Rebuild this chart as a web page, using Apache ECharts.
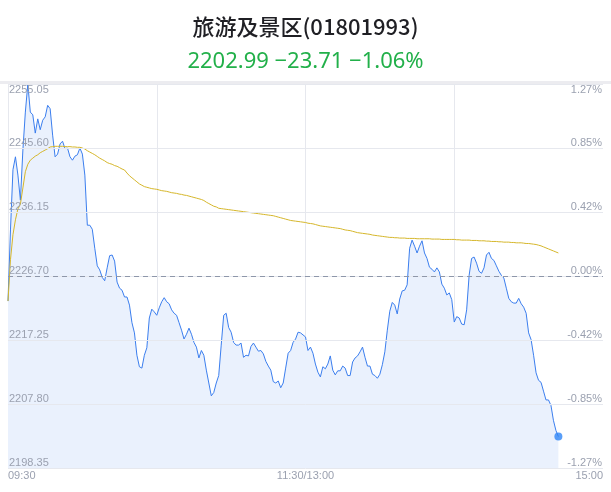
<!DOCTYPE html>
<html><head><meta charset="utf-8">
<script src="https://cdn.jsdelivr.net/npm/echarts@6/dist/echarts.min.js"></script>
<style>html,body{margin:0;padding:0;background:#fff}#c{width:611px;height:492px}</style>
</head><body><div id="c"></div>
<script>
var titleText = '旅游及景区(01801993)';
var prevClose = 2226.70;
var yMin = 2198.35, yMax = 2255.05, yStep = 9.45;
var price = [
2223.0,2233.5,2242.4,2244.3,2241.6,2237.9,2245.3,2250.9,2255.05,2250.9,
2250.5,2247.8,2249.9,2248.3,2249.7,2250.2,2251.9,2251.4,2247.5,2244.3,
2244.7,2246.2,2246.6,2245.5,2245.6,2244.3,2243.8,2244.4,2244.6,2245.6,
2244.7,2241.6,2234.2,2234.2,2233.6,2230.8,2228.2,2227.6,2226.5,2226.0,
2227.9,2229.7,2229.8,2228.9,2225.8,2224.9,2224.6,2223.6,2223.6,2222.4,
2219.8,2218.3,2215.0,2213.3,2213.1,2215.0,2216.1,2220.5,2221.8,2221.4,
2220.9,2222.0,2222.9,2223.5,2222.9,2222.6,2221.7,2221.2,2220.9,2219.8,
2218.7,2217.4,2218.1,2219.0,2218.1,2216.9,2216.2,2214.6,2215.7,2215.0,
2212.8,2210.9,2209.0,2209.5,2210.9,2212.0,2216.5,2220.9,2221.2,2219.1,
2218.4,2216.9,2216.5,2216.5,2216.8,2214.7,2215.0,2214.9,2216.3,2216.8,
2216.2,2215.6,2215.7,2215.2,2214.1,2213.4,2212.8,2211.1,2210.9,2211.2,
2210.2,2210.9,2213.1,2215.3,2215.7,2216.9,2217.4,2218.4,2218.3,2218.0,
2217.7,2215.7,2216.2,2215.3,2213.7,2212.5,2211.8,2213.3,2213.0,2213.7,
2214.9,2212.8,2212.1,2212.7,2212.7,2213.4,2213.1,2212.0,2212.0,2214.0,
2214.6,2214.9,2215.5,2216.2,2214.7,2213.4,2213.4,2212.2,2212.0,2211.6,
2212.2,2213.6,2215.5,2218.7,2221.5,2222.8,2222.4,2221.1,2223.3,2224.5,
2224.6,2225.4,2230.8,2232.0,2231.1,2230.1,2231.1,2231.9,2230.1,2229.3,
2228.0,2227.7,2227.3,2227.9,2227.3,2225.5,2224.9,2223.9,2224.2,2223.2,
2219.9,2220.7,2220.5,2219.6,2219.5,2221.7,2226.8,2229.3,2229.5,2228.6,
2227.4,2227.1,2227.9,2229.8,2230.2,2229.3,2229.0,2228.2,2227.4,2226.8,
2226.4,2224.9,2223.4,2222.9,2222.7,2222.7,2223.4,2222.6,2222.1,2221.2,
2218.3,2217.3,2215.0,2212.4,2211.3,2211.0,2209.7,2208.4,2208.4,2207.6,
2205.4,2203.9,2202.99
];
var avgPrice = [
2223.0,2229.1,2232.8,2235.0,2236.6,2237.3,2239.7,2242.1,2243.2,2243.8,
2244.1,2244.4,2244.6,2244.9,2245.1,2245.3,2245.5,2245.75,2245.8,2245.85,
2245.85,2245.85,2245.85,2245.8,2245.8,2245.8,2245.75,2245.75,2245.7,2245.7,
2245.6,2245.45,2245.2,2245.0,2244.8,2244.6,2244.35,2244.1,2243.9,2243.7,
2243.45,2243.3,2243.2,2243.0,2242.9,2242.7,2242.5,2242.35,2241.9,2241.5,
2241.2,2240.9,2240.6,2240.3,2240.1,2239.9,2239.8,2239.7,2239.6,2239.55,
2239.5,2239.4,2239.3,2239.25,2239.2,2239.1,2239.0,2238.95,2238.9,2238.8,
2238.75,2238.65,2238.6,2238.5,2238.4,2238.3,2238.2,2238.1,2238.0,2237.85,
2237.6,2237.4,2237.2,2237.0,2236.9,2236.7,2236.65,2236.6,2236.55,2236.5,
2236.45,2236.4,2236.35,2236.3,2236.25,2236.2,2236.15,2236.1,2236.05,2236.0,
2235.95,2235.9,2235.85,2235.8,2235.75,2235.7,2235.65,2235.6,2235.5,2235.4,
2235.3,2235.2,2235.1,2235.0,2234.9,2234.85,2234.8,2234.75,2234.7,2234.65,
2234.6,2234.5,2234.45,2234.4,2234.3,2234.2,2234.1,2234.05,2234.0,2233.95,
2233.9,2233.85,2233.8,2233.75,2233.7,2233.6,2233.5,2233.45,2233.4,2233.3,
2233.2,2233.1,2233.05,2233.0,2232.95,2232.9,2232.85,2232.75,2232.7,2232.65,
2232.6,2232.55,2232.5,2232.45,2232.4,2232.4,2232.35,2232.35,2232.3,2232.3,
2232.3,2232.25,2232.25,2232.25,2232.25,2232.2,2232.2,2232.2,2232.2,2232.2,
2232.2,2232.15,2232.15,2232.15,2232.15,2232.1,2232.1,2232.1,2232.1,2232.1,
2232.1,2232.05,2232.05,2232.0,2232.0,2232.0,2232.0,2231.95,2231.95,2231.95,
2231.9,2231.9,2231.9,2231.85,2231.85,2231.8,2231.8,2231.8,2231.75,2231.75,
2231.7,2231.7,2231.7,2231.65,2231.65,2231.6,2231.6,2231.6,2231.55,2231.5,
2231.5,2231.45,2231.4,2231.35,2231.25,2231.15,2231.0,2230.85,2230.7,2230.55,
2230.4,2230.25,2230.1
];
var xTickLabels = ['09:30', '11:30/13:00', '15:00'];

function pad(n){return (n<10?'0':'')+n;}
var times = [];
for (var m = 9*60+30; m <= 11*60+30; m++) times.push(pad(Math.floor(m/60))+':'+pad(m%60));
for (var m2 = 13*60+1; m2 <= 15*60; m2++) times.push(pad(Math.floor(m2/60))+':'+pad(m2%60));

var last = price[price.length-1];
var chg = last - prevClose;
var pct = chg / prevClose * 100;
var minus = function(v){ return (v<0?'\u2212':'+') + Math.abs(v).toFixed(2); };
var subText = last.toFixed(2) + ' ' + minus(chg) + ' ' + minus(pct) + '%';
var pMin = (yMin - prevClose)/prevClose*100, pMax = (yMax - prevClose)/prevClose*100;

var labelColor = '#9ba1b0';
var gridColor = '#e6e8ee';
var chart = echarts.init(document.getElementById('c'));
chart.setOption({
  animation: false,
  title: [
    {text: titleText, left: 'center', top: 11, textStyle: {fontFamily: 'Noto Sans CJK SC', fontSize: 22, fontWeight: 500, color: '#1f1f24'}},
    {text: subText, left: 'center', top: 46, textStyle: {fontFamily: 'Noto Sans', fontSize: 22, fontWeight: 'normal', color: '#22b04a'}}
  ],
  graphic: [{type: 'rect', left: 0, top: 81, shape: {width: 611, height: 3}, style: {fill: '#ececf0'}, silent: true}],
  grid: {left: 8, right: 8, top: 84, bottom: 24, containLabel: false},
  xAxis: {
    type: 'category', data: times, boundaryGap: false,
    axisLine: {show: false}, axisTick: {show: false},
    axisLabel: {
      color: labelColor, fontSize: 11, margin: 2,
      interval: function(i){ return i===0 || i===120 || i===240; },
      formatter: function(v, i){ return i===0 ? xTickLabels[0] : (i===120 ? xTickLabels[1] : xTickLabels[2]); },
      alignMinLabel: 'left', alignMaxLabel: 'right'
    },
    splitLine: {show: true, interval: function(i){ return i % 60 === 0 && i < 240; }, lineStyle: {color: gridColor, width: 1}}
  },
  yAxis: [
    {type: 'value', min: yMin, max: yMax, interval: yStep, position: 'left', z: 10,
     axisLine: {show: false}, axisTick: {show: false},
     splitLine: {lineStyle: {color: gridColor, width: 1}},
     axisLabel: {inside: true, color: labelColor, fontSize: 11, margin: 1,
       verticalAlign: 'bottom', verticalAlignMaxLabel: 'top',
       formatter: function(v){ return v.toFixed(2); }}},
    {type: 'value', min: pMin, max: pMax, interval: (pMax-pMin)/6, position: 'right', z: 10,
     axisLine: {show: false}, axisTick: {show: false}, splitLine: {show: false},
     axisLabel: {inside: true, color: labelColor, fontSize: 11, margin: 1,
       verticalAlign: 'bottom', verticalAlignMaxLabel: 'top',
       formatter: function(v){ return (Math.abs(v) < 1e-6 ? 0 : v).toFixed(2) + '%'; }}}
  ],
  series: [
    {type: 'line', data: price, yAxisIndex: 0, showSymbol: false, smooth: false,
     lineStyle: {color: '#3b7eee', width: 1}, areaStyle: {color: '#eaf1fd', opacity: 1, origin: 'start'},
     markLine: {z: 15, silent: true, symbol: ['none','none'], label: {show: false},
       lineStyle: {color: '#8e97aa', type: [5,4], width: 1}, data: [{yAxis: prevClose}]}},
    {type: 'line', data: avgPrice, yAxisIndex: 0, showSymbol: false,
     lineStyle: {color: '#d5b62a', width: 1}},
    {type: 'scatter', yAxisIndex: 0, z: 20, symbolSize: 8, itemStyle: {color: '#2f86f6'},
     data: [[price.length-1, last]]}
  ]
});
</script></body></html>
